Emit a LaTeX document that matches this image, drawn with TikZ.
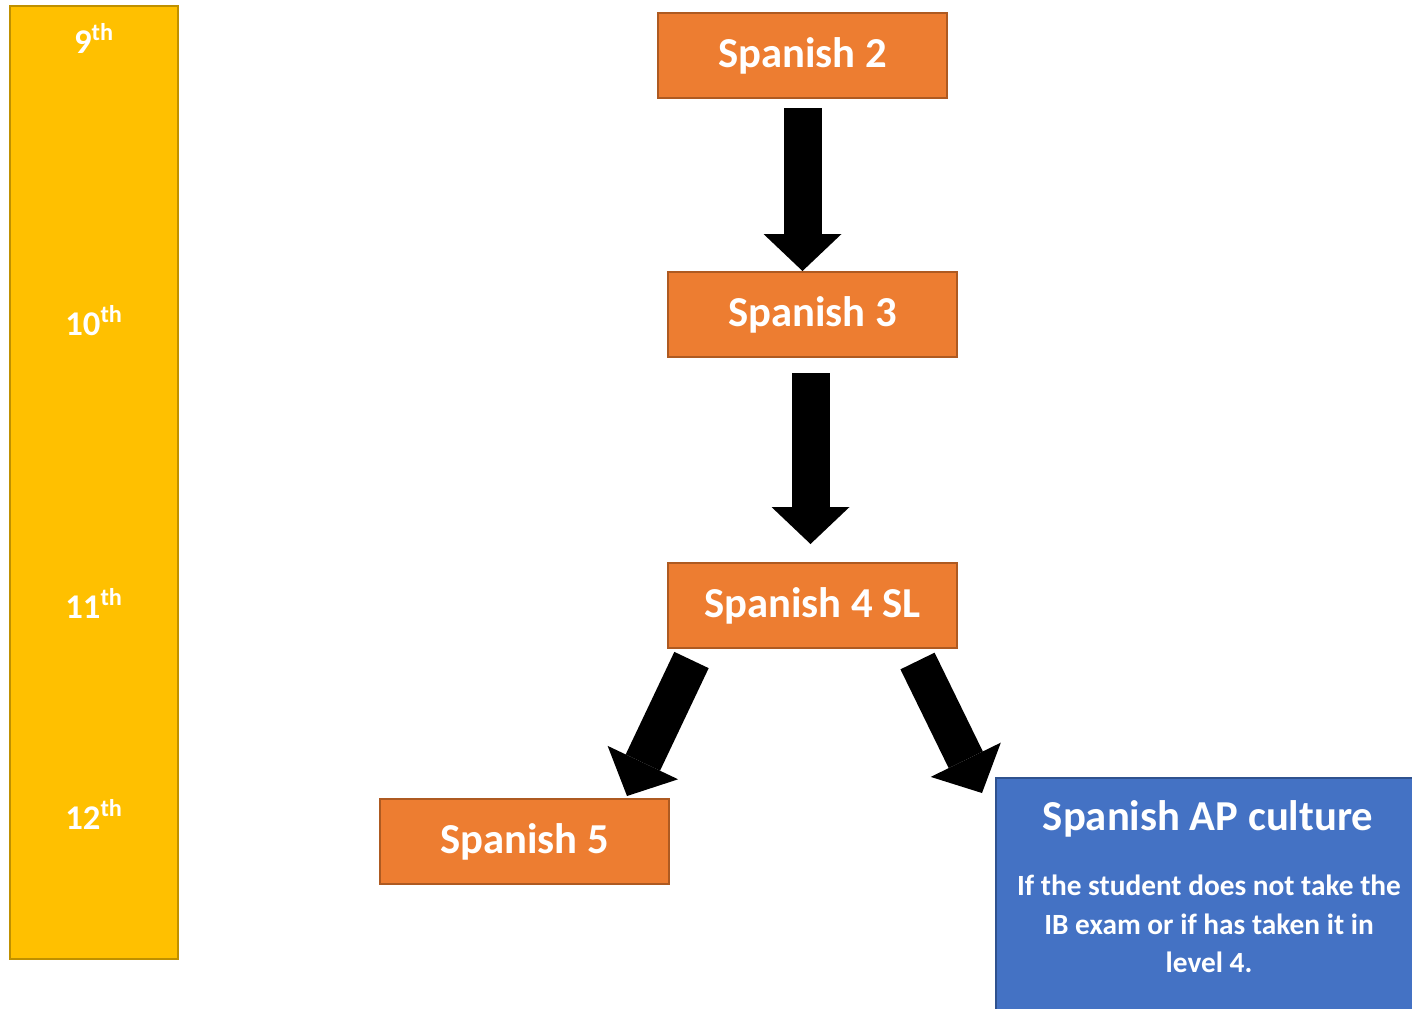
\documentclass[tikz,border=0pt]{standalone}
\usepackage{fontspec}
\setmainfont{Carlito}[Numbers=Lining]
\usetikzlibrary{arrows.meta,calc}

\definecolor{gradeyellow}{HTML}{FFC000}
\definecolor{gradeedge}{HTML}{BF9000}
\definecolor{courseorange}{HTML}{ED7D31}
\definecolor{courseedge}{HTML}{AE5A21}
\definecolor{apblue}{HTML}{4472C4}
\definecolor{apedge}{HTML}{2F528F}

\tikzset{
  course/.style={draw=courseedge, line width=1.5pt, fill=courseorange, text=white,
    font=\fontsize{32}{38}\selectfont\bfseries,
    minimum width=216.75pt, minimum height=63.75pt, inner sep=0pt},
  grade/.style={text=white, font=\fontsize{26}{31}\selectfont\bfseries, anchor=base},
  bigarrow/.style={line width=28.5pt,
    -{Triangle[length=27.75pt, width=58.5pt, line width=0pt]}},
}

\begin{document}
\begin{tikzpicture}[x=0.75pt, y=-0.75pt]
  \useasboundingbox (0,0) rectangle (1412,1008);

  % Grade bar
  \node[draw=gradeedge, line width=1.5pt, fill=gradeyellow, inner sep=0pt,
        minimum width=126pt, minimum height=714.75pt] (bar) at (94,482.5) {};

  \node[grade] (g9)  at (94,53)  {9\textsuperscript{th}};
  \node[grade] (g10) at (94,335) {10\textsuperscript{th}};
  \node[grade] (g11) at (94,618) {11\textsuperscript{th}};
  \node[grade] (g12) at (94,829) {12\textsuperscript{th}};

  % Courses
  \node[course] (sp2) at (802.5,55.5)  {Spanish 2};
  \node[course] (sp3) at (812.5,314.5) {Spanish 3};
  \node[course] (sp4) at (812.5,605.5) {Spanish 4 SL};
  \node[course] (sp5) at (524.5,841.5) {Spanish 5};

  \node[draw=apedge, line width=1.5pt, fill=apblue, anchor=north west,
        minimum width=330pt, minimum height=195pt] (ap) at (995,777) {};
  \node[text=white, font=\fontsize{32}{38}\selectfont\bfseries] (aptitle)
    at (1208,819) {Spanish AP culture};
  \node[text=white, font=\fontsize{22}{28.9}\selectfont\bfseries, align=center] (apnote)
    at (1209,924) {If the student does not take the\\IB exam or if has taken it in\\level 4.};

  % Arrows
  \draw[bigarrow] ($(sp2.south)+(0,9)$) -- (sp2.south |- sp3.north);
  \draw[bigarrow] ($(sp3.south)+(-2,15)$) -- ($(sp4.north)+(-2,-18)$);
  \draw[bigarrow] ($(sp4.south west)+(24.5,11)$) -- ($(sp5.north east)+(-43,-2)$);
  \draw[bigarrow] ($(sp4.south east)+(-40.5,12)$) -- ($(ap.north west)+(-13,16)$);
\end{tikzpicture}
\end{document}
